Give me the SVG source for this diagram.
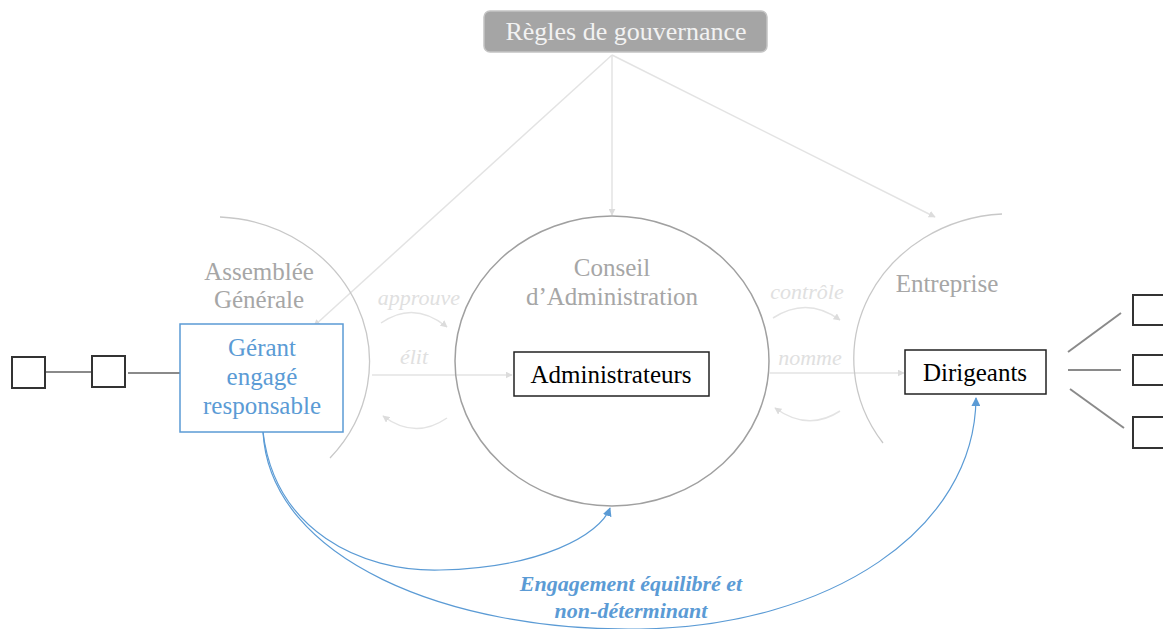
<svg xmlns="http://www.w3.org/2000/svg" width="1163" height="629" viewBox="0 0 1163 629">
<style>
text{font-family:"Liberation Serif","Times New Roman",serif;}
.lbl{fill:#a6a6a6;font-size:25px;text-anchor:middle;}
.verb{fill:#e0e0e0;font-size:22px;font-style:italic;text-anchor:middle;}
.blk{fill:#000;font-size:25px;text-anchor:middle;}
.blue{fill:#5b9bd5;font-size:25px;text-anchor:middle;}
.arc{fill:none;stroke:#c8c8c8;stroke-width:1.3;}
.light{fill:none;stroke:#e3e3e3;stroke-width:1.5;}
.bluel{fill:none;stroke:#5b9bd5;stroke-width:1.2;}
.sq{fill:#fff;stroke:#333;stroke-width:2;}
.gl{stroke:#8a8a8a;stroke-width:2;}
.eng{fill:#5b9bd5;font-size:22px;font-weight:bold;font-style:italic;text-anchor:middle;}
</style>
<defs>
<marker id="ag" viewBox="0 0 10 10" refX="9" refY="5" markerWidth="7" markerHeight="7" orient="auto" markerUnits="userSpaceOnUse"><path d="M0,0 L10,5 L0,10 z" fill="#dcdcdc"/></marker>
<marker id="ab" viewBox="0 0 10 10" refX="9" refY="5" markerWidth="9" markerHeight="9" orient="auto" markerUnits="userSpaceOnUse"><path d="M0,0 L10,5 L0,10 z" fill="#5b9bd5"/></marker>
</defs>

<g id="connectors">
  <line class="light" x1="612" y1="55" x2="314" y2="326" marker-end="url(#ag)"/>
  <line class="light" x1="612" y1="55" x2="612" y2="215" marker-end="url(#ag)"/>
  <line class="light" x1="612" y1="55" x2="935" y2="217" marker-end="url(#ag)"/>
  <path class="light" d="M381,323 Q414,300 447,327" marker-end="url(#ag)"/>
  <line class="light" x1="372" y1="375" x2="512" y2="375" marker-end="url(#ag)"/>
  <path class="light" d="M447,418 Q415,440 383,416" marker-end="url(#ag)"/>
  <path class="light" d="M773,318 Q807,296 840,320" marker-end="url(#ag)"/>
  <line class="light" x1="770" y1="373" x2="904" y2="373" marker-end="url(#ag)"/>
  <path class="light" d="M840,411 Q808,432 775,408" marker-end="url(#ag)"/>
  <line class="gl" x1="45" y1="372" x2="91" y2="372"/>
  <line class="gl" x1="128" y1="373" x2="180" y2="373"/>
  <line class="gl" x1="1068" y1="352" x2="1121" y2="313"/>
  <line class="gl" x1="1068" y1="370" x2="1121" y2="370"/>
  <line class="gl" x1="1070" y1="389" x2="1124" y2="428"/>
  <path class="bluel" d="M263,432 C275,530 360,572 440,570 C540,568 600,535 610,508" marker-end="url(#ab)"/>
  <path class="bluel" d="M263,432 C270,560 450,632 640,629 C830,626 975,530 976,398" marker-end="url(#ab)"/>
</g>

<g id="regles">
  <rect x="484" y="11" width="283" height="41" rx="6" fill="#a5a5a5" stroke="#c4c4c4" stroke-width="1.5"/>
  <text x="626" y="40" fill="#f2f2f2" font-size="26" text-anchor="middle">Règles de gouvernance</text>
</g>

<g id="assemblee">
  <path class="arc" d="M220,217 A157,145 0 0 1 330,458"/>
  <text class="lbl" x="259" y="280">Assemblée</text>
  <text class="lbl" x="259" y="308">Générale</text>
</g>

<g id="gerant">
  <rect x="180" y="324" width="163" height="108" fill="#fff" stroke="#5b9bd5" stroke-width="1.5"/>
  <text class="blue" x="262" y="356">Gérant</text>
  <text class="blue" x="262" y="385">engagé</text>
  <text class="blue" x="262" y="414">responsable</text>
</g>

<g id="conseil">
  <ellipse cx="612" cy="361" rx="157" ry="145" fill="none" stroke="#a0a0a0" stroke-width="1.5"/>
  <text class="lbl" x="612" y="276">Conseil</text>
  <text class="lbl" x="612" y="305">d’Administration</text>
</g>

<g id="administrateurs">
  <rect x="514" y="352" width="195" height="44" fill="#fff" stroke="#222" stroke-width="1.5"/>
  <text class="blk" x="611" y="383">Administrateurs</text>
</g>

<g id="entreprise">
  <path class="arc" d="M1002,214 A157,145 0 0 0 883,443"/>
  <text class="lbl" x="947" y="292">Entreprise</text>
</g>

<g id="dirigeants">
  <rect x="905" y="350" width="141" height="44" fill="#fff" stroke="#222" stroke-width="1.5"/>
  <text class="blk" x="975" y="381">Dirigeants</text>
</g>

<g id="verbs">
  <text class="verb" x="419" y="305">approuve</text>
  <text class="verb" x="414" y="364">élit</text>
  <text class="verb" x="807" y="299">contrôle</text>
  <text class="verb" x="810" y="365">nomme</text>
</g>

<g id="sq-left1"><rect class="sq" x="12" y="357" width="33" height="31"/></g>
<g id="sq-left2"><rect class="sq" x="92" y="356" width="33" height="31"/></g>
<g id="sq-right1"><rect class="sq" x="1133" y="295" width="40" height="30"/></g>
<g id="sq-right2"><rect class="sq" x="1133" y="355" width="40" height="30"/></g>
<g id="sq-right3"><rect class="sq" x="1133" y="417" width="40" height="31"/></g>

<g id="engagement">
  <text class="eng" x="631" y="591">Engagement équilibré et</text>
  <text class="eng" x="631" y="618">non-déterminant</text>
</g>
</svg>
